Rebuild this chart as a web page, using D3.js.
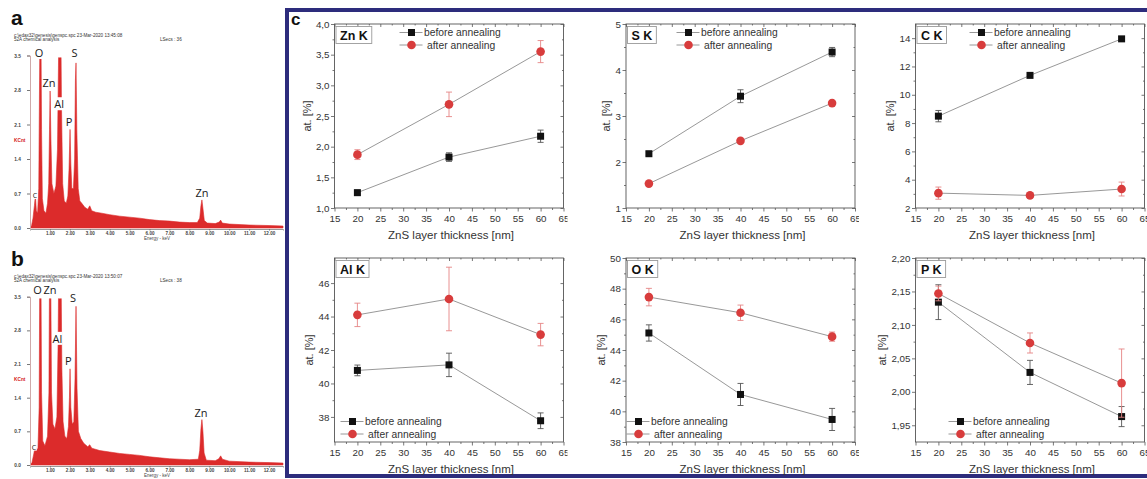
<!DOCTYPE html>
<html>
<head>
<meta charset="utf-8">
<script src="https://cdn.jsdelivr.net/npm/d3@7/dist/d3.min.js"></script>
<style>
	body { margin: 0; background: #fff; }
	svg { display: block; font-family: Arial, "Liberation Sans", sans-serif; }
</style>
</head>
<body>
<svg id="fig" width="1147" height="479"></svg>
<script>
// EDS spectra (a: before annealing, b: after annealing), energy in keV, counts in kCnt.
const specAEnergy = [0, 0.08, 0.15, 0.22, 0.27, 0.32, 0.38, 0.44, 0.48, 0.5, 0.55, 0.58, 0.62, 0.7, 0.8, 0.88, 0.94, 0.98, 1.01, 1.05, 1.1, 1.2, 1.3, 1.38, 1.42, 1.45, 1.55, 1.58, 1.64, 1.72, 1.82, 1.9, 1.96, 2.01, 2.05, 2.1, 2.18, 2.24, 2.28, 2.31, 2.35, 2.42, 2.5, 2.6, 2.75, 2.9, 3.0, 3.1, 3.3, 3.6, 4.0, 4.5, 5.0, 5.5, 6.0, 6.5, 7.0, 7.5, 8.0, 8.4, 8.52, 8.58, 8.63, 8.68, 8.75, 8.9, 9.3, 9.5, 9.57, 9.65, 10, 11, 12, 12.7];
const specACounts = [0, 0.05, 0.2, 0.45, 0.66, 0.35, 0.3, 0.8, 3.0, 4.0, 4.0, 2.0, 0.6, 0.35, 0.3, 0.5, 0.9, 2.0, 2.78, 1.8, 0.9, 0.7, 0.85, 1.6, 3.0, 4.0, 4.0, 2.5, 0.9, 0.55, 0.5, 0.65, 1.2, 2.0, 1.3, 0.8, 0.8, 1.4, 3.0, 3.35, 2.0, 0.8, 0.55, 0.5, 0.42, 0.38, 0.45, 0.35, 0.32, 0.3, 0.27, 0.24, 0.22, 0.2, 0.17, 0.15, 0.14, 0.12, 0.11, 0.11, 0.2, 0.45, 0.57, 0.4, 0.15, 0.1, 0.09, 0.12, 0.16, 0.1, 0.08, 0.06, 0.05, 0.04];
const specBEnergy = [0, 0.1, 0.2, 0.27, 0.32, 0.4, 0.46, 0.49, 0.55, 0.58, 0.64, 0.75, 0.88, 0.95, 0.98, 1.04, 1.08, 1.15, 1.25, 1.35, 1.41, 1.44, 1.56, 1.6, 1.66, 1.75, 1.85, 1.93, 1.98, 2.01, 2.05, 2.12, 2.2, 2.26, 2.31, 2.36, 2.43, 2.55, 2.7, 2.9, 3.0, 3.1, 3.5, 4.0, 4.5, 5.0, 5.5, 6.0, 6.5, 7.0, 7.5, 8.0, 8.45, 8.52, 8.58, 8.63, 8.68, 8.74, 8.85, 9.3, 9.48, 9.57, 9.66, 10, 11, 12, 12.7];
const specBCounts = [0, 0.05, 0.25, 0.43, 0.3, 0.35, 1.2, 4.0, 4.0, 1.5, 0.5, 0.4, 0.6, 1.5, 4.0, 4.0, 1.5, 0.85, 0.75, 1.0, 2.5, 4.0, 4.0, 2.0, 0.9, 0.6, 0.55, 0.8, 1.4, 2.0, 1.2, 0.85, 0.9, 1.8, 3.3, 1.6, 0.7, 0.55, 0.45, 0.38, 0.42, 0.35, 0.3, 0.27, 0.24, 0.22, 0.2, 0.17, 0.15, 0.13, 0.12, 0.11, 0.12, 0.3, 0.75, 0.95, 0.7, 0.25, 0.1, 0.09, 0.13, 0.19, 0.12, 0.08, 0.06, 0.05, 0.04];
const specYTicks = [0, 0.7, 1.4, 2.1, 2.8, 3.5];
const specXTicks = [1, 2, 3, 4, 5, 6, 7, 8, 9, 10, 11, 12];

// Peak labels: text, energy of label centre, kCnt of baseline
const peakTextA = ["O", "Zn", "Al", "P", "S", "Zn", "C"];
const peakEA = [0.45, 0.95, 1.46, 1.96, 2.23, 8.63, 0.25];
const peakYA = [3.47, 2.86, 2.43, 2.07, 3.47, 0.63, 0.61];
const peakTextB = ["O", "Zn", "Al", "P", "S", "Zn", "C"];
const peakEB = [0.38, 1.0, 1.38, 1.92, 2.16, 8.58, 0.2];
const peakYB = [3.55, 3.55, 2.54, 2.09, 3.40, 0.99, 0.32];

// Panel c: at.% vs ZnS layer thickness
const thickness = [20, 40, 60];
const xTicks = [15, 20, 25, 30, 35, 40, 45, 50, 55, 60, 65];

const znBefore = [1.25, 1.83, 2.17], znBeforeErr = [0.04, 0.07, 0.10];
const znAfter = [1.87, 2.69, 3.55], znAfterErr = [0.08, 0.20, 0.18];
const sBefore = [2.18, 3.43, 4.39], sBeforeErr = [0.04, 0.14, 0.10];
const sAfter = [1.53, 2.46, 3.28], sAfterErr = [0.03, 0.03, 0.04];
const cBefore = [8.49, 11.37, 13.95], cBeforeErr = [0.40, 0.15, 0.15];
const cAfter = [3.05, 2.89, 3.34], cAfterErr = [0.43, 0.10, 0.49];
const alBefore = [40.78, 41.11, 37.77], alBeforeErr = [0.32, 0.70, 0.47];
const alAfter = [44.10, 45.05, 42.92], alAfterErr = [0.70, 1.90, 0.67];
const oBefore = [45.11, 41.10, 39.47], oBeforeErr = [0.53, 0.72, 0.72];
const oAfter = [47.45, 46.43, 44.87], oAfterErr = [0.57, 0.50, 0.30];
const pBefore = [2.134, 2.029, 1.963], pBeforeErr = [0.026, 0.018, 0.015];
const pAfter = [2.147, 2.073, 2.013], pAfterErr = [0.011, 0.015, 0.051];

const znTicks = [1.0, 1.5, 2.0, 2.5, 3.0, 3.5, 4.0];
const sTicks = [1, 2, 3, 4, 5];
const cTicks = [2, 4, 6, 8, 10, 12, 14];
const alTicks = [38, 40, 42, 44, 46];
const oTicks = [38, 40, 42, 44, 46, 48, 50];
const pTicks = [1.95, 2.00, 2.05, 2.10, 2.15, 2.20];

const seriesNames = ["before annealing", "after annealing"];

const COL = {
	spec: "#dc2b2b",
	red: "#d83c3c",
	redErr: "#e58585",
	black: "#111",
	blackErr: "#555",
	line: "#8c8c8c",
	axis: "#555",
	text: "#333",
	frame: "#2d2c7c",
};

const svg = d3.select("#fig");
const commaFmt = d3.formatLocale({ decimal: ",", thousands: ".", grouping: [3], currency: ["", ""] });

// ---------- spectra ----------
function drawSpectrum(opts) {
	const x = d3.scaleLinear().domain([0, 12.7]).range([30, 283]);
	const y = d3.scaleLinear().domain([0, 3.5]).range([opts.base, opts.top]);
	const g = svg.append("g");

	g.append("text").attr("x", 11).attr("y", opts.top - 31)
		.attr("font-size", 21).attr("font-weight", "bold").attr("fill", "#111").text(opts.letter);
	g.append("text").attr("x", 14).attr("y", opts.top - 19).attr("font-size", 4.6).attr("fill", "#333")
		.text(opts.file);
	g.append("text").attr("x", 14).attr("y", opts.top - 15).attr("font-size", 4.6).attr("fill", "#333")
		.text("52A chemical analysis");
	g.append("text").attr("x", 160).attr("y", opts.top - 15).attr("font-size", 4.6).attr("fill", "#333")
		.text(opts.lsec);

	g.append("clipPath").attr("id", "clip-" + opts.letter)
		.append("rect").attr("x", 30).attr("y", y(3.46)).attr("width", 254).attr("height", opts.base - y(3.46) + 1);

	const area = d3.area()
		.x(d => x(d[0]))
		.y0(y(0))
		.y1(d => y(d[1]));
	g.append("path")
		.datum(d3.zip(opts.energy, opts.counts))
		.attr("clip-path", "url(#clip-" + opts.letter + ")")
		.attr("fill", COL.spec)
		.attr("stroke", COL.spec).attr("stroke-width", 0.6)
		.attr("d", area);

	// axes
	const ya = g.append("g").attr("transform", `translate(30,0)`)
		.call(d3.axisLeft(y).tickValues(specYTicks).tickSize(3).tickPadding(6).tickFormat(d3.format(".1f")));
	ya.select(".domain").attr("stroke", "#cfa9a9");
	ya.selectAll(".tick line").attr("stroke", "#777");
	ya.selectAll(".tick text").attr("font-size", 4.8).attr("font-weight", "bold").attr("fill", "#444");
	const xa = g.append("g").attr("transform", `translate(0,${opts.base + 1})`)
		.call(d3.axisBottom(x).tickValues(specXTicks).tickSize(1.5).tickPadding(1).tickFormat(d3.format(".2f")));
	xa.select(".domain").attr("stroke", "#999");
	xa.selectAll(".tick line").attr("stroke", "#777");
	xa.selectAll(".tick text").attr("font-size", 4.6).attr("font-weight", "bold").attr("fill", "#444");
	g.append("text").attr("x", 157).attr("y", opts.base + 11.5).attr("text-anchor", "middle")
		.attr("font-size", 4.5).attr("fill", "#444").text("Energy - keV");
	g.append("text").attr("x", 14).attr("y", y(1.75)).attr("font-size", 4.8).attr("font-weight", "bold")
		.attr("fill", "#d42020").text("KCnt");

	// peak labels, with a white patch behind like the original software
	opts.labels.forEach((t, i) => {
		const small = t === "C";
		const lt = g.append("text")
			.attr("x", x(opts.labelE[i])).attr("y", y(opts.labelY[i]))
			.attr("text-anchor", "middle")
			.attr("font-family", "'Open Sans', sans-serif")
			.attr("font-size", small ? 7 : 11)
			.attr("fill", "#1a1a1a").text(t);
		const bb = lt.node().getBBox();
		g.insert("rect", () => lt.node())
			.attr("x", bb.x).attr("y", bb.y + 1).attr("width", bb.width).attr("height", bb.height - 2)
			.attr("fill", "#fff");
	});
}

drawSpectrum({
	letter: "a", top: 55.5, base: 228,
	energy: specAEnergy, counts: specACounts,
	file: "c:\\edax32\\genesis\\genspc.spc   23-Mar-2020 13:45:08", lsec: "LSecs : 36",
	labels: peakTextA, labelE: peakEA, labelY: peakYA,
});
drawSpectrum({
	letter: "b", top: 296.7, base: 465,
	energy: specBEnergy, counts: specBCounts,
	file: "c:\\edax32\\genesis\\genspc.spc   23-Mar-2020 13:50:07", lsec: "LSecs : 38",
	labels: peakTextB, labelE: peakEB, labelY: peakYB,
});

// ---------- panel c ----------
svg.append("rect")
	.attr("x", 287).attr("y", 10).attr("width", 900).attr("height", 466)
	.attr("fill", "none").attr("stroke", COL.frame).attr("stroke-width", 4);
svg.append("text").attr("x", 291).attr("y", 25).attr("font-size", 17).attr("font-weight", "bold")
	.attr("fill", "#111").text("c");

const PW = 229;
const cols = [334.5, 626, 915.5];
const rows = [{ top: 24, bottom: 208 }, { top: 258, bottom: 442 }];

const panels = [
	{ name: "Zn K", col: 0, row: 0, yDomain: [1, 4], yTicks: znTicks, fmt: ".1f",
		before: znBefore, beforeErr: znBeforeErr, after: znAfter, afterErr: znAfterErr, leg: [77, 8.5] },
	{ name: "S K", col: 1, row: 0, yDomain: [1, 5], yTicks: sTicks, fmt: "d",
		before: sBefore, beforeErr: sBeforeErr, after: sAfter, afterErr: sAfterErr, leg: [62.5, 8.5] },
	{ name: "C K", col: 2, row: 0, yDomain: [2, 15], yTicks: cTicks, fmt: "d",
		before: cBefore, beforeErr: cBeforeErr, after: cAfter, afterErr: cAfterErr, leg: [66, 8.5] },
	{ name: "Al K", col: 0, row: 1, yDomain: [36.5, 47.5], yTicks: alTicks, fmt: "d",
		before: alBefore, beforeErr: alBeforeErr, after: alAfter, afterErr: alAfterErr, leg: [18, 163.5] },
	{ name: "O K", col: 1, row: 1, yDomain: [38, 50], yTicks: oTicks, fmt: "d",
		before: oBefore, beforeErr: oBeforeErr, after: oAfter, afterErr: oAfterErr, leg: [12.5, 163.5] },
	{ name: "P K", col: 2, row: 1, yDomain: [1.925, 2.2], yTicks: pTicks, fmt: ".2f",
		before: pBefore, beforeErr: pBeforeErr, after: pAfter, afterErr: pAfterErr, leg: [45, 163.5] },
];

// minor tick positions halfway between the labelled ones
function halfSteps(ticks) {
	const out = [];
	for (let i = 0; i < ticks.length - 1; i++) out.push((ticks[i] + ticks[i + 1]) / 2);
	return out;
}

function styleAx(g, size) {
	g.select(".domain").remove();
	g.selectAll(".tick line").attr("stroke", COL.axis).attr("stroke-width", 0.8);
	g.selectAll(".tick text").attr("font-size", size).attr("fill", COL.text);
	return g;
}

function drawPanel(p, idx) {
	const L = cols[p.col], T = rows[p.row].top, B = rows[p.row].bottom;
	const x = d3.scaleLinear().domain([15, 65]).range([L, L + PW]);
	const y = d3.scaleLinear().domain(p.yDomain).range([B, T]);
	const g = svg.append("g");
	if (p.col < 2) {
		// the export cuts the last "65" label at the panel edge
		g.append("clipPath").attr("id", "pc" + idx)
			.append("rect").attr("x", L - 60).attr("y", T - 10).attr("width", PW + 64).attr("height", B - T + 60);
		g.attr("clip-path", "url(#pc" + idx + ")");
	}
	const yFmt = commaFmt.format(p.fmt);
	const yMinor = halfSteps(p.yTicks);
	const xMinor = halfSteps(xTicks);

	// outward ticks on bottom / left, inward on top / right
	g.append("g").attr("transform", `translate(0,${B})`)
		.call(d3.axisBottom(x).tickValues(xMinor).tickSize(2).tickFormat("")).call(styleAx, 9.8);
	g.append("g").attr("transform", `translate(0,${B})`)
		.call(d3.axisBottom(x).tickValues(xTicks).tickSize(3.5).tickPadding(3.5).tickFormat(d3.format("d"))).call(styleAx, 9.8);
	g.append("g").attr("transform", `translate(${L},0)`)
		.call(d3.axisLeft(y).tickValues(yMinor).tickSize(2).tickFormat("")).call(styleAx, 9.8);
	const ly = g.append("g").attr("transform", `translate(${L},0)`)
		.call(d3.axisLeft(y).tickValues(p.yTicks).tickSize(3.5).tickPadding(1.5).tickFormat(yFmt)).call(styleAx, 9.8);
	g.append("g").attr("transform", `translate(0,${T})`)
		.call(d3.axisTop(x).tickValues(xTicks).tickSize(-3).tickFormat("")).call(styleAx, 9.8);
	g.append("g").attr("transform", `translate(0,${T})`)
		.call(d3.axisTop(x).tickValues(xMinor).tickSize(-1.5).tickFormat("")).call(styleAx, 9.8);
	g.append("g").attr("transform", `translate(${L + PW},0)`)
		.call(d3.axisRight(y).tickValues(p.yTicks).tickSize(-3).tickFormat("")).call(styleAx, 9.8);
	g.append("g").attr("transform", `translate(${L + PW},0)`)
		.call(d3.axisRight(y).tickValues(yMinor).tickSize(-1.5).tickFormat("")).call(styleAx, 9.8);

	g.append("rect").attr("x", L).attr("y", T).attr("width", PW).attr("height", B - T)
		.attr("fill", "none").attr("stroke", COL.axis).attr("stroke-width", 0.9);

	// axis titles
	let maxW = 0;
	ly.selectAll(".tick text").each(function () { maxW = Math.max(maxW, this.getComputedTextLength()); });
	g.append("text").attr("transform", `translate(${L - 5 - maxW - 9},${(T + B) / 2}) rotate(-90)`)
		.attr("text-anchor", "middle").attr("dy", "0.35em")
		.attr("font-size", 11).attr("fill", COL.text).text("at. [%]");
	g.append("text").attr("x", L + PW / 2 + 2).attr("y", B + 31)
		.attr("text-anchor", "middle").attr("font-size", 11.5).attr("fill", COL.text)
		.text("ZnS layer thickness [nm]");

	// element tag box
	const tag = g.append("text").attr("x", L + 5.5).attr("y", T + 15.5)
		.attr("font-size", 12.5).attr("font-weight", "bold").attr("fill", "#111").text(p.name);
	const tw = tag.node().getComputedTextLength();
	g.insert("rect", () => tag.node())
		.attr("x", L + 1.5).attr("y", T + 2.5).attr("width", tw + 8).attr("height", 17)
		.attr("fill", "#fff").attr("stroke", "#9a9a9a").attr("stroke-width", 0.9);

	// series: connecting line, error bars, markers
	const sets = [
		{ v: p.before, e: p.beforeErr, color: COL.black, err: COL.blackErr, shape: "square" },
		{ v: p.after, e: p.afterErr, color: COL.red, err: COL.redErr, shape: "circle" },
	];
	const line = d3.line().x(d => x(d[0])).y(d => y(d[1]));
	sets.forEach(s => {
		const pts = d3.zip(thickness, s.v, s.e);
		g.append("path").datum(pts).attr("d", line)
			.attr("fill", "none").attr("stroke", COL.line).attr("stroke-width", 0.9);
		const eb = g.append("g").attr("stroke", s.err).attr("stroke-width", 0.9);
		pts.forEach(d => {
			const cx = x(d[0]), y0 = y(d[1] - d[2]), y1 = y(d[1] + d[2]);
			eb.append("line").attr("x1", cx).attr("x2", cx).attr("y1", y0).attr("y2", y1);
			eb.append("line").attr("x1", cx - 3).attr("x2", cx + 3).attr("y1", y0).attr("y2", y0);
			eb.append("line").attr("x1", cx - 3).attr("x2", cx + 3).attr("y1", y1).attr("y2", y1);
		});
		pts.forEach(d => marker(g, s.shape, x(d[0]), y(d[1]), s.color));
	});

	// legend
	const mx = L + p.leg[0];
	sets.forEach((s, i) => {
		const my = T + p.leg[1] + i * 12.5;
		g.append("line").attr("x1", mx - 12).attr("x2", mx + 11).attr("y1", my).attr("y2", my)
			.attr("stroke", COL.line).attr("stroke-width", 0.9);
		marker(g, s.shape, mx, my, s.color);
		g.append("text").attr("x", mx + (i === 0 ? 12.5 : 15.5)).attr("y", my).attr("dy", "0.35em")
			.attr("font-size", 10.3).attr("fill", COL.text).text(seriesNames[i]);
	});
}

function marker(g, shape, cx, cy, color) {
	if (shape === "square") {
		g.append("rect").attr("x", cx - 3.5).attr("y", cy - 3.5).attr("width", 7).attr("height", 7)
			.attr("fill", color);
	} else {
		g.append("circle").attr("cx", cx).attr("cy", cy).attr("r", 4.3).attr("fill", color);
	}
}

panels.forEach(drawPanel);
</script>
</body>
</html>
